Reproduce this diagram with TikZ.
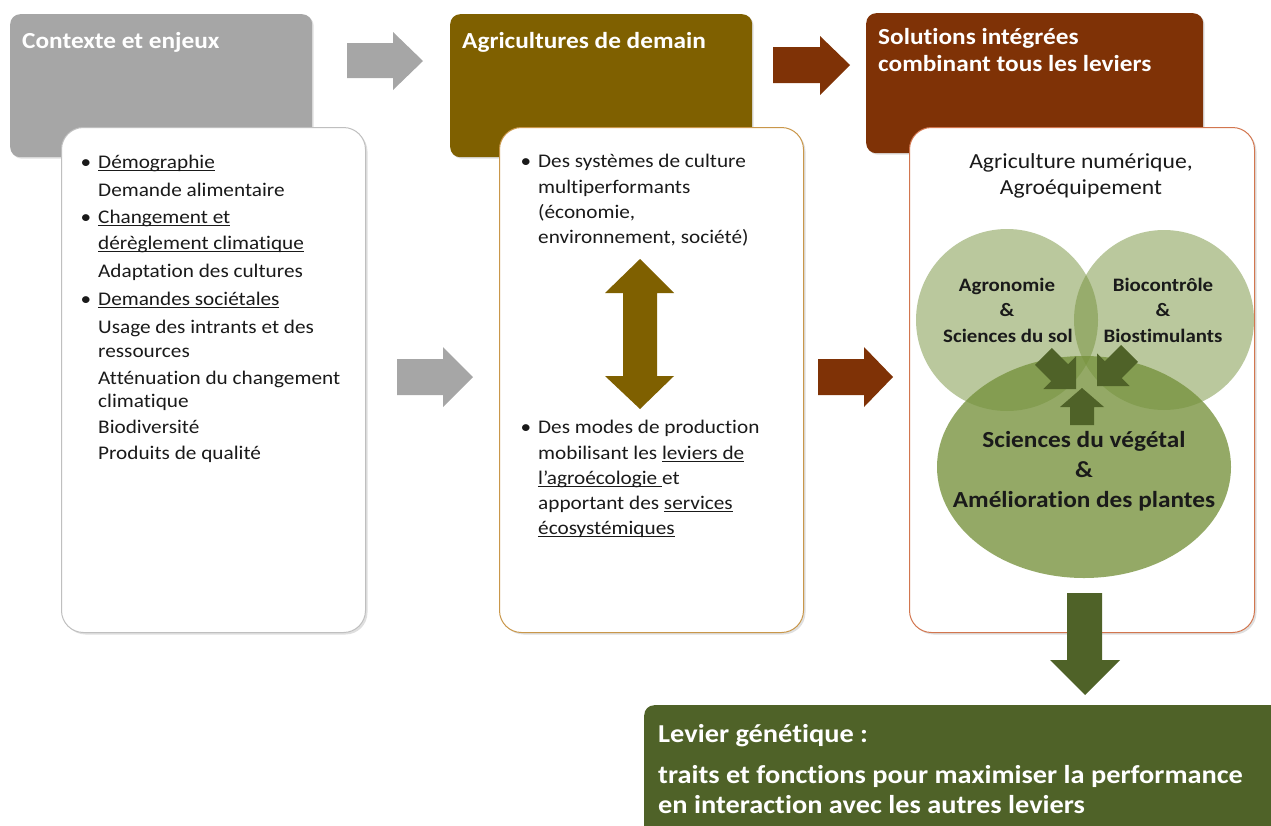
\documentclass[tikz,border=0pt]{standalone}
\usepackage{fontspec}
\setmainfont{Carlito}[FakeStretch=1.1, Ligatures=NoCommon]
\usetikzlibrary{shadows,shapes.geometric}
\definecolor{hgray}{HTML}{A6A6A6}
\definecolor{hbrown}{HTML}{7F6000}
\definecolor{hred}{HTML}{7F3206}
\definecolor{dgreen}{HTML}{4F6228}
\definecolor{ogreen}{HTML}{76923C}
\definecolor{bgray}{HTML}{BFBFBF}
\definecolor{bgold}{HTML}{C9974A}
\definecolor{bred}{HTML}{D2764F}
\definecolor{txt}{HTML}{1A1A1A}
\newcommand\ulx[1]{\setbox0\hbox{#1}\rlap{\rule[-3pt]{\wd0}{0.9pt}}\box0}
\newcommand\bul{\llap{\textbullet\hspace{7pt}}}
\begin{document}
\begin{tikzpicture}[x=1pt,y=-1pt,
  hdr/.style={rounded corners=10pt, anchor=north west, inner sep=0pt, drop shadow={shadow xshift=1.5pt,shadow yshift=-1.5pt,opacity=0.25}},
  wbox/.style={fill=white, rounded corners=22pt, line width=1pt, anchor=north west, inner sep=0pt, minimum width=304pt, minimum height=505pt, drop shadow={shadow xshift=2pt,shadow yshift=-2pt,opacity=0.25}},
  body/.style={inner sep=0pt, anchor=base west, font=\fontsize{19.3}{23}\selectfont, text=txt},
  htxt/.style={inner sep=0pt, anchor=base west, font=\fontsize{23}{26}\selectfont\bfseries, text=white},
  ctxt/.style={inner sep=0pt, anchor=base, font=\fontsize{19}{22}\selectfont\bfseries, text=txt},
  etxt/.style={inner sep=0pt, anchor=base, font=\fontsize{23}{26}\selectfont\bfseries, text=txt},
  gtxt/.style={inner sep=0pt, anchor=base west, font=\fontsize{25.8}{29}\selectfont\bfseries, text=white},
  sarrow/.style={fill=dgreen},
]
\useasboundingbox (0,0) rectangle (1271,825);

% header boxes
\node[hdr, fill=hgray, minimum width=302pt, minimum height=143pt] (h1) at (10,14) {};
\node[hdr, fill=hbrown, minimum width=302pt, minimum height=143pt] (h2) at (450,14) {};
\node[hdr, fill=hred, minimum width=337pt, minimum height=140pt] (h3) at (866,13) {};

\node[htxt] (t1) at (22,48) {Contexte et enjeux};
\node[htxt] (t2) at (462,48) {Agricultures de demain};
\node[htxt] (t3a) at (878,44) {Solutions intégrées};
\node[htxt] (t3b) at (878,71) {combinant tous les leviers};

% white boxes
\node[wbox, draw=bgray] (b1) at (61,127) {};
\node[wbox, draw=bgold] (b2) at (499,127) {};
\node[wbox, draw=bred, minimum width=345pt] (b3) at (909,127) {};

% block arrows
\fill[hgray] (347,43) -- (393,43) -- (393,32) -- (423,61) -- (393,90) -- (393,78) -- (347,78) -- cycle;
\fill[hgray] (397,359) -- (443,359) -- (443,347) -- (473,377) -- (443,407) -- (443,395) -- (397,395) -- cycle;
\fill[hred] (773,47) -- (820,47) -- (820,36) -- (850,65) -- (820,95) -- (820,83) -- (773,83) -- cycle;
\fill[hred] (818,359) -- (864,359) -- (864,347) -- (893,377) -- (864,407) -- (864,395) -- (818,395) -- cycle;
\fill[hbrown] (640,259) -- (674,293) -- (657,293) -- (657,376) -- (674,376) -- (640,409) -- (605,376) -- (623,376) -- (623,293) -- (605,293) -- cycle;

% box 1 text
\node[body] (l1) at (98,168) {\bul\ulx{Démographie}};
\node[body] (l2) at (98,196) {Demande alimentaire};
\node[body] (l3) at (98,223) {\bul\ulx{Changement et}};
\node[body] (l4) at (98,249) {\ulx{dérèglement climatique}};
\node[body] (l5) at (98,277) {Adaptation des cultures};
\node[body] (l6) at (98,305) {\bul\ulx{Demandes sociétales}};
\node[body] (l7) at (98,333) {Usage des intrants et des};
\node[body] (l8) at (98,357) {ressources};
\node[body] (l9) at (98,384) {Atténuation du changement};
\node[body] (l10) at (98,407) {climatique};
\node[body] (l11) at (98,433) {Biodiversité};
\node[body] (l12) at (98,459) {Produits de qualité};

% box 2 text
\node[body] (m1) at (538,167) {\bul Des systèmes de culture};
\node[body] (m2) at (538,193) {multiperformants};
\node[body] (m3) at (538,218) {(économie,};
\node[body] (m4) at (538,243) {environnement, société)};
\node[body] (m5) at (538,433) {\bul Des modes de production};
\node[body] (m6) at (538,459) {mobilisant les \ulx{leviers de}};
\node[body] (m7) at (538,484) {\ulx{l’agroécologie }et};
\node[body] (m8) at (538,509) {apportant des \ulx{services}};
\node[body] (m9) at (538,534) {\ulx{écosystémiques}};

% box 3
\node[inner sep=0pt, anchor=base, font=\fontsize{21.5}{25}\selectfont, text=txt] (n1) at (1081,168) {Agriculture numérique,};
\node[inner sep=0pt, anchor=base, font=\fontsize{21.5}{25}\selectfont, text=txt] (n2) at (1081,194) {Agroéquipement};

\node[circle, fill=ogreen, fill opacity=0.5, inner sep=0pt, minimum size=182pt] (c1) at (1007,320) {};
\node[circle, fill=ogreen, fill opacity=0.5, inner sep=0pt, minimum size=180pt] (c2) at (1164,320) {};
\node[ellipse, fill=ogreen, fill opacity=0.78, inner sep=0pt, minimum width=294pt, minimum height=222pt] (e1) at (1084,467) {};

\begin{scope}[shift={(1076,389)}, rotate=-45]
\fill[sarrow] (0,0) -- (-23,-23) -- (-23,-12) -- (-46,-12) -- (-46,12) -- (-23,12) -- (-23,23) -- cycle;
\end{scope}
\begin{scope}[shift={(1097,386)}, rotate=-135]
\fill[sarrow] (0,0) -- (-23,-23) -- (-23,-12) -- (-46,-12) -- (-46,12) -- (-23,12) -- (-23,23) -- cycle;
\end{scope}
\fill[sarrow] (1082,388) -- (1104,407) -- (1094,407) -- (1094,425) -- (1070,425) -- (1070,407) -- (1060,407) -- cycle;

\node[ctxt] (a1) at (1007,291) {Agronomie};
\node[ctxt] (a2) at (1007,316) {\&};
\node[ctxt] (a3) at (1008,342) {Sciences du sol};
\node[ctxt] (bc1) at (1163,291) {Biocontrôle};
\node[ctxt] (bc2) at (1163,316) {\&};
\node[ctxt] (bc3) at (1163,342) {Biostimulants};
\node[etxt] (s1) at (1084,447) {Sciences du végétal};
\node[etxt] (s2) at (1084,477) {\&};
\node[etxt] (s3) at (1084,507) {Amélioration des plantes};

% down arrow and green box
\fill[dgreen] (1067,593) -- (1102,593) -- (1102,660) -- (1120,660) -- (1085,695) -- (1050,660) -- (1067,660) -- cycle;
\node[fill=dgreen, rounded corners=10pt, anchor=north west, inner sep=0pt, minimum width=660pt, minimum height=150pt] (g) at (644,705) {};
\node[gtxt] (g1) at (658,742) {Levier génétique :};
\node[gtxt] (g2) at (658,783) {traits et fonctions pour maximiser la performance};
\node[gtxt] (g3) at (658,813) {en interaction avec les autres leviers};
\end{tikzpicture}
\end{document}
